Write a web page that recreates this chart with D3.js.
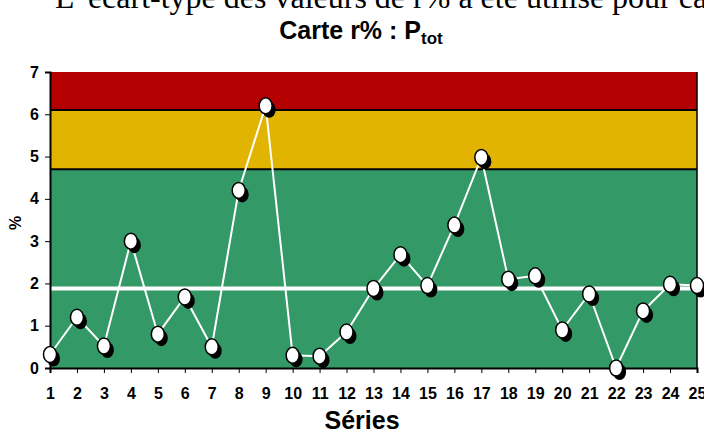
<!DOCTYPE html>
<html><head><meta charset="utf-8">
<script src="https://cdn.jsdelivr.net/npm/d3@7"></script>
<style>html,body{margin:0;padding:0;background:#fff;overflow:hidden}</style>
</head><body>
<svg id="c" width="704" height="432"></svg>
<script>
const series = d3.range(1, 26);
const values = [0.32,1.2,0.52,3.0,0.8,1.68,0.5,4.2,6.2,0.3,0.28,0.85,1.88,2.68,1.95,3.38,4.98,2.1,2.18,0.9,1.75,0.0,1.35,1.98,1.95];
const meanValue = 1.88;
const bands = [{from:0,to:4.7,color:"#339966"},{from:4.7,to:6.1,color:"#e0b400"},{from:6.1,to:7,color:"#b40000"}];
const limitLines = [4.7, 6.1];
const yTicks = [0,1,2,3,4,5,6,7];

const svg = d3.select("#c");
const L = 50, R = 697, T = 72, B = 368;
const x = d3.scaleLinear().domain([1,25]).range([L,R]);
const y = d3.scaleLinear().domain([0,7]).range([B,T]);

// top cut-off text
svg.append("text").attr("x",55).attr("y",8)
  .attr("font-family","'Liberation Serif','Times New Roman',serif").attr("font-size",32)
  .text("L’ écart-type des valeurs de r% a été utilisé pour calculer les limites");

// title
const title = svg.append("text").attr("x",361).attr("y",39).attr("text-anchor","middle")
  .attr("font-family","'Liberation Sans',Arial,sans-serif").attr("font-weight","bold").attr("font-size",25);
title.append("tspan").text("Carte r% : P");
title.append("tspan").attr("dy",5).attr("font-size",17).text("tot");

// bands
svg.selectAll("rect.band").data(bands).enter().append("rect")
  .attr("x",L).attr("width",R-L).attr("y",d=>y(d.to)).attr("height",d=>y(d.from)-y(d.to)).attr("fill",d=>d.color);
svg.selectAll("line.lim").data(limitLines).enter().append("line")
  .attr("x1",L).attr("x2",R).attr("y1",d=>y(d)).attr("y2",d=>y(d)).attr("stroke","#000").attr("stroke-width",2);

// mean line
svg.append("line").attr("x1",L).attr("x2",R).attr("y1",y(meanValue)).attr("y2",y(meanValue))
  .attr("stroke","#fff").attr("stroke-width",4);

// right border
svg.append("line").attr("x1",R).attr("x2",R).attr("y1",T).attr("y2",B).attr("stroke","#000").attr("stroke-width",1.5);

// axes
const yAxis = svg.append("g").attr("transform",`translate(${L},0)`)
  .call(d3.axisLeft(y).tickValues(yTicks).tickSize(5).tickPadding(5).tickFormat(d3.format("d")));
const xAxis = svg.append("g").attr("transform",`translate(0,${B})`)
  .call(d3.axisBottom(x).tickValues(series).tickSize(5).tickPadding(15).tickFormat(d3.format("d")));
[yAxis,xAxis].forEach(g=>{
  g.select(".domain").attr("stroke","#000").attr("stroke-width",2);
  g.selectAll(".tick line").attr("stroke","#000").attr("stroke-width",1);
  g.selectAll("text").attr("font-family","'Liberation Sans',Arial,sans-serif").attr("font-weight","bold").attr("font-size",16).attr("fill","#000");
});
yAxis.selectAll("text").attr("dx",-1);

// line
const line = d3.line().x((d,i)=>x(series[i])).y(d=>y(d));
svg.append("path").datum(values).attr("d",line).attr("fill","none").attr("stroke","#fff").attr("stroke-width",2);

// markers
const pts = svg.selectAll("g.pt").data(values).enter().append("g")
  .attr("transform",(d,i)=>`translate(${x(series[i])},${y(d)})`);
pts.append("ellipse").attr("cx",3.5).attr("cy",4).attr("rx",6.5).attr("ry",8).attr("fill","#000");
pts.append("ellipse").attr("rx",6.5).attr("ry",8).attr("fill","#fff").attr("stroke","#000").attr("stroke-width",1.5);

// axis titles
svg.append("text").attr("transform","translate(21,223) rotate(-90)").attr("text-anchor","middle")
  .attr("font-family","'Liberation Sans',Arial,sans-serif").attr("font-weight","bold").attr("font-size",16).text("%");
svg.append("text").attr("x",362).attr("y",429).attr("text-anchor","middle")
  .attr("font-family","'Liberation Sans',Arial,sans-serif").attr("font-weight","bold").attr("font-size",25).text("Séries");
</script>
</body></html>
